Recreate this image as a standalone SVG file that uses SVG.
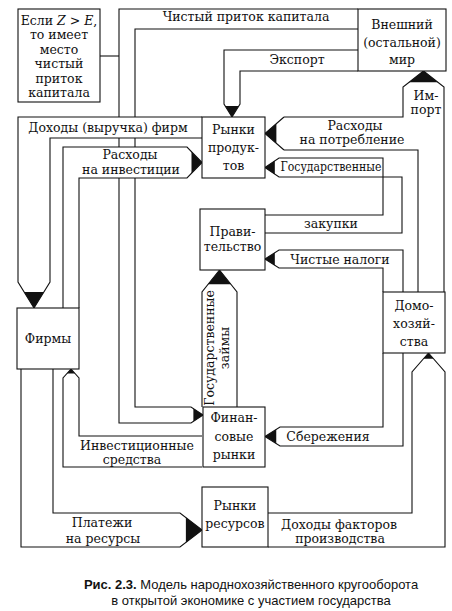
<svg xmlns="http://www.w3.org/2000/svg" width="452" height="611" viewBox="0 0 452 611">
<style>
.ln{fill:none;stroke:#111;stroke-width:1.1;stroke-linejoin:miter}
.bx{fill:#fff;stroke:#111;stroke-width:1.1}
.ah{fill:#111;stroke:none}
.wf{fill:#fff;stroke:none}
.t{font-family:"DejaVu Serif","Liberation Serif",serif;font-size:12.5px;fill:#111;text-anchor:middle}
.cap{font-family:"Liberation Sans",Arial,sans-serif;font-size:13px;fill:#111;text-anchor:middle}
</style>
<rect width="452" height="611" fill="#fff"/>
<g id="connectors">
  <g id="f-capital">
    <path class="ln" d="M358,9 H119 V423 H191 L203,415"/>
    <path class="ln" d="M358,29 H135 V407 H191 L203,415"/>
    <polygon class="ah" points="193.4,408.6 203,415 193.4,421.4"/>
    <text class="t" x="246" y="21">Чистый приток капитала</text>
    <path class="ln" d="M100,56 H119"/>
  </g>
  <g id="f-export">
    <path class="ln" d="M358,50 H224 V104 L232,117"/>
    <path class="ln" d="M358,71 H240 V104 L232,117"/>
    <polygon class="ah" points="225.2,106 232,117 238.8,106"/>
    <text class="t" x="297" y="64">Экспорт</text>
  </g>
  <g id="f-consumption-import">
    <path class="ln" d="M444,292 V87 L423.5,71"/>
    <path class="ln" d="M284,117 H403 V87 L423.5,71"/>
    <path class="ln" d="M284,150 H418 V292"/>
    <path class="ln" d="M284,117 L265,133.5 L284,150"/>
    <polygon class="ah" points="409.15,82.2 423.5,71 437.85,82.2"/>
    <polygon class="ah" points="276.4,123.6 265,133.5 276.4,143.4"/>
    <text class="t" x="426" y="99.5">Им-</text>
    <text class="t" x="426" y="114">порт</text>
    <text class="t" x="355" y="129.5">Расходы</text>
    <text class="t" x="352" y="144">на потребление</text>
  </g>
  <g id="f-gov-purchases">
    <path class="ln" d="M265,215 H383 V158 H279 L265,167.5"/>
    <path class="ln" d="M265,233 H402 V177 H279 L265,167.5"/>
    <polygon class="ah" points="274.8,160.85 265,167.5 274.8,174.15"/>
    <text class="t" x="331" y="171" textLength="101" lengthAdjust="spacingAndGlyphs">Государственные</text>
    <text class="t" x="331" y="228">закупки</text>
  </g>
  <g id="f-taxes">
    <path class="ln" d="M383,292 V268 H279 L265,259"/>
    <path class="ln" d="M403,292 V250 H279 L265,259"/>
    <polygon class="ah" points="274.8,252.7 265,259 274.8,265.3"/>
    <text class="t" x="340" y="264">Чистые налоги</text>
  </g>
  <g id="f-savings">
    <path class="ln" d="M383,353 V427 H280 L265,436.5"/>
    <path class="ln" d="M403,353 V446 H280 L265,436.5"/>
    <polygon class="ah" points="276.25,429.4 265,436.5 276.25,443.6"/>
    <text class="t" x="328" y="441">Сбережения</text>
  </g>
  <g id="f-factor-income">
    <path class="ln" d="M268,513 H412 V372 L428.5,353"/>
    <path class="ln" d="M268,547 H445 V372 L428.5,353"/>
    <polygon class="ah" points="423.55,358.7 428.5,353 433.45,358.7"/>
    <text class="t" x="339" y="528.5">Доходы факторов</text>
    <text class="t" x="340" y="543">производства</text>
  </g>
  <g id="f-resource-payments">
    <path class="ln" d="M53,369 V513 H180 L202,530"/>
    <path class="ln" d="M21,369 V547 H180 L202,530"/>
    <polygon class="ah" points="185.9,517.6 202,530 185.9,542.4"/>
    <text class="t" x="102" y="527">Платежи</text>
    <text class="t" x="103" y="543">на ресурсы</text>
  </g>
  <g id="f-invest-funds">
    <path class="ln" d="M202,436 H79 V378 L71,369"/>
    <path class="ln" d="M202,467 H63 V378 L71,369"/>
    <polygon class="ah" points="67,373.5 71,369 75,373.5"/>
    <text class="t" x="137" y="449.5">Инвестиционные</text>
    <text class="t" x="132" y="464">средства</text>
  </g>
  <g id="f-investment">
    <polygon class="wf" points="63,308 63,147 187,147 202,162.5 187,178 79,178 79,308"/>
    <path class="ln" d="M63,308 V147 H187 L202,162.5"/>
    <path class="ln" d="M79,308 V178 H187 L202,162.5"/>
    <polygon class="ah" points="191.5,151.65 202,162.5 191.5,173.35"/>
    <text class="t" x="130" y="159">Расходы</text>
    <text class="t" x="131" y="174">на инвестиции</text>
  </g>
  <g id="f-revenue">
    <polygon class="wf" points="202,117 18,117 18,282 34,308 50,282 50,138 202,138"/>
    <path class="ln" d="M202,117 H18 V282 L34,308"/>
    <path class="ln" d="M202,138 H50 V282 L34,308"/>
    <polygon class="ah" points="24.08,291.88 34,308 43.92,291.88"/>
    <text class="t" x="108" y="132">Доходы (выручка) фирм</text>
  </g>
  <g id="f-gov-loans">
    <path class="ln" d="M202,407 V292 L219.5,270"/>
    <path class="ln" d="M237,407 V292 L219.5,270"/>
    <polygon class="ah" points="208.1,284.3 219.5,270 230.9,284.3"/>
    <text class="t" transform="translate(214,348) rotate(-90)">Государственные</text>
    <text class="t" transform="translate(229,348) rotate(-90)">займы</text>
  </g>
</g>
<g id="note">
  <rect class="bx" x="18" y="9" width="82" height="93"/>
  <text class="t" x="59" y="25">Если <tspan font-style="italic">Z</tspan> &gt; <tspan font-style="italic">E</tspan>,</text>
  <text class="t" x="59" y="39">то имеет</text>
  <text class="t" x="59" y="54">место</text>
  <text class="t" x="59" y="68">чистый</text>
  <text class="t" x="59" y="83">приток</text>
  <text class="t" x="59" y="97">капитала</text>
</g>
<g id="world">
  <rect class="bx" x="358" y="9" width="88" height="62"/>
  <text class="t" x="402" y="29">Внешний</text>
  <text class="t" x="402" y="47">(остальной)</text>
  <text class="t" x="402" y="64">мир</text>
</g>
<g id="product-markets">
  <rect class="bx" x="202" y="117" width="63" height="61"/>
  <text class="t" x="233.5" y="134">Рынки</text>
  <text class="t" x="233.5" y="152">продук-</text>
  <text class="t" x="233.5" y="170">тов</text>
</g>
<g id="government">
  <rect class="bx" x="200" y="209" width="65" height="61"/>
  <text class="t" x="232.5" y="236">Прави-</text>
  <text class="t" x="232.5" y="251">тельство</text>
</g>
<g id="firms">
  <rect class="bx" x="17" y="308" width="62" height="61"/>
  <text class="t" x="48" y="343">Фирмы</text>
</g>
<g id="households">
  <rect class="bx" x="383" y="292" width="62" height="61"/>
  <text class="t" x="414" y="310">Домо-</text>
  <text class="t" x="414" y="328">хозяй-</text>
  <text class="t" x="414" y="346">ства</text>
</g>
<g id="financial-markets">
  <rect class="bx" x="203" y="407" width="62" height="60"/>
  <text class="t" x="234" y="422">Финан-</text>
  <text class="t" x="234" y="441">совые</text>
  <text class="t" x="234" y="459">рынки</text>
</g>
<g id="resource-markets">
  <rect class="bx" x="202" y="487" width="66" height="60"/>
  <text class="t" x="235" y="510">Рынки</text>
  <text class="t" x="235" y="528">ресурсов</text>
</g>
<g id="caption">
  <text class="cap" x="251" y="589"><tspan font-weight="bold">Рис. 2.3.</tspan> Модель народнохозяйственного кругооборота</text>
  <text class="cap" x="251" y="605">в открытой экономике с участием государства</text>
</g>
</svg>
